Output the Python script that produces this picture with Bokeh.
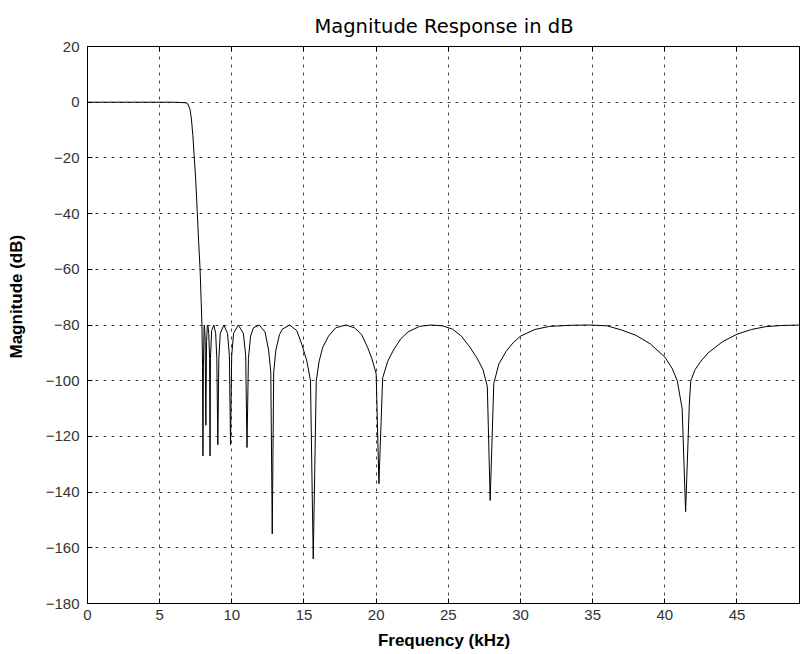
from bokeh.plotting import figure
from bokeh.models import LinearAxis, Range1d, FixedTicker
from bokeh.embed import file_html
from bokeh.resources import INLINE

# Frequency (kHz) and magnitude (dB)
freq_khz = [
    0, 3, 6.0, 6.8, 6.95, 7.1, 7.2, 7.3, 7.4, 7.5, 7.6, 7.7, 7.8, 7.88, 7.93,
    7.97, 8.0, 8.03, 8.08, 8.1,
    8.15, 8.2, 8.25, 8.3, 8.34, 8.4,
    8.46, 8.49, 8.52, 8.6, 8.75, 8.88, 8.96,
    9.03, 9.1, 9.2, 9.45, 9.7, 9.83,
    9.91, 9.99, 10.12, 10.45, 10.8, 10.96,
    11.05, 11.15, 11.3, 11.5, 11.9, 12.3, 12.55, 12.7,
    12.8, 12.9, 13.05, 13.3, 13.5, 14.0, 14.5, 14.85, 15.2, 15.45,
    15.64, 15.85, 16.05, 16.3, 16.7, 17.2, 17.9, 18.5, 19.0, 19.4, 19.7, 20.0,
    20.19, 20.45, 20.8, 21.2, 21.7, 22.2, 23.0, 23.8, 24.6, 25.3, 25.9, 26.5, 27.0, 27.4, 27.7,
    27.9, 28.15, 28.5, 29.0, 29.5, 30.0, 31.0, 32.0, 33.5, 34.8, 36.0, 37.0, 38.0, 39.0,
    40.0, 40.5, 40.86, 41.2,
    41.44, 41.7, 41.8, 42.1, 42.5, 43.0, 44.0, 45.0, 46.0, 47.0, 48.0, 49.0, 50.0,
]
mag_db = [
    0, 0, 0, -0.2, -0.6, -2.5, -6, -12, -20, -28, -39, -50, -60, -72, -80,
    -95, -127, -95, -80.5, -80,
    -85, -116, -86, -80.5, -80, -83,
    -92, -127, -92, -82, -80, -83, -92,
    -123, -92, -83, -80, -83, -91,
    -123, -91, -83, -80, -83, -91,
    -124, -92, -84, -81, -80, -82.5, -89, -97,
    -155, -97, -89, -83.5, -81.5, -80, -82, -87, -93, -100,
    -164, -100, -93, -88, -84, -81, -80, -81, -83.5, -88, -92, -97.5,
    -137, -99, -93, -89, -85, -82.5, -80.5, -80, -80.3, -81.5, -84, -88, -92, -96, -102,
    -143, -101, -94, -89.5, -86.3, -84, -81.6, -80.5, -80.1, -80, -80.3, -81.8, -83.7, -86.8,
    -91.5, -95.5, -100, -110,
    -147, -108, -100, -96, -93, -90, -86, -83.3, -81.6, -80.6, -80.2, -80.05, -80,
]

x_ticks = [0, 5, 10, 15, 20, 25, 30, 35, 40, 45]
y_ticks = [20, 0, -20, -40, -60, -80, -100, -120, -140, -160, -180]

title_text = "Magnitude Response in dB"
x_label = "Frequency (kHz)"
y_label = "Magnitude (dB)"

p = figure(width=800, height=654, output_backend="svg", toolbar_location=None,
           x_range=Range1d(0, 49.4), y_range=Range1d(-180, 20),
           min_border_left=87, min_border_right=0, min_border_top=46,
           min_border_bottom=51)

p.title.text = title_text
p.title.align = "center"
p.title.text_font = "DejaVu Sans"
p.title.text_font_size = "19.5px"
p.title.text_font_style = "normal"
p.title.text_color = "black"
p.title.offset = 6
p.title.standoff = 18

p.line(freq_khz, mag_db, line_color="black", line_width=1)

for ax in (p.xaxis[0], p.yaxis[0]):
    ax.major_tick_in = 5
    ax.major_tick_out = 0
    ax.minor_tick_in = 0
    ax.minor_tick_out = 0
    ax.axis_line_color = "black"
    ax.major_tick_line_color = "black"
    ax.major_label_text_font = "Liberation Sans"
    ax.major_label_text_font_size = "15px"
    ax.major_label_text_color = "#333333"
    ax.axis_label_text_font = "Liberation Sans"
    ax.axis_label_text_font_size = "17px"
    ax.axis_label_text_font_style = "bold"
    ax.axis_label_text_color = "black"

p.xaxis[0].ticker = FixedTicker(ticks=x_ticks)
p.yaxis[0].ticker = FixedTicker(ticks=y_ticks)
p.xaxis[0].axis_label = x_label
p.yaxis[0].axis_label = "\u00a0" * 12 + y_label
p.xaxis[0].major_label_standoff = 6
p.yaxis[0].major_label_standoff = 8
p.xaxis[0].axis_label_standoff = 8
p.yaxis[0].axis_label_standoff = 17

top = LinearAxis(ticker=FixedTicker(ticks=x_ticks), major_tick_in=5, major_tick_out=0,
                 minor_tick_in=0, minor_tick_out=0, major_label_text_font_size="1px",
                 major_label_text_alpha=0, axis_line_color="black",
                 major_label_standoff=0)
p.add_layout(top, "above")

p.outline_line_color = "black"
p.outline_line_width = 1

p.xgrid.ticker = FixedTicker(ticks=x_ticks)
p.ygrid.ticker = FixedTicker(ticks=y_ticks)
for g in (p.xgrid[0], p.ygrid[0]):
    g.grid_line_color = "black"
    g.grid_line_alpha = 0.75
    g.grid_line_dash = "3 5"
    g.grid_line_width = 1

open("out.html", "w").write(file_html(p, INLINE))
